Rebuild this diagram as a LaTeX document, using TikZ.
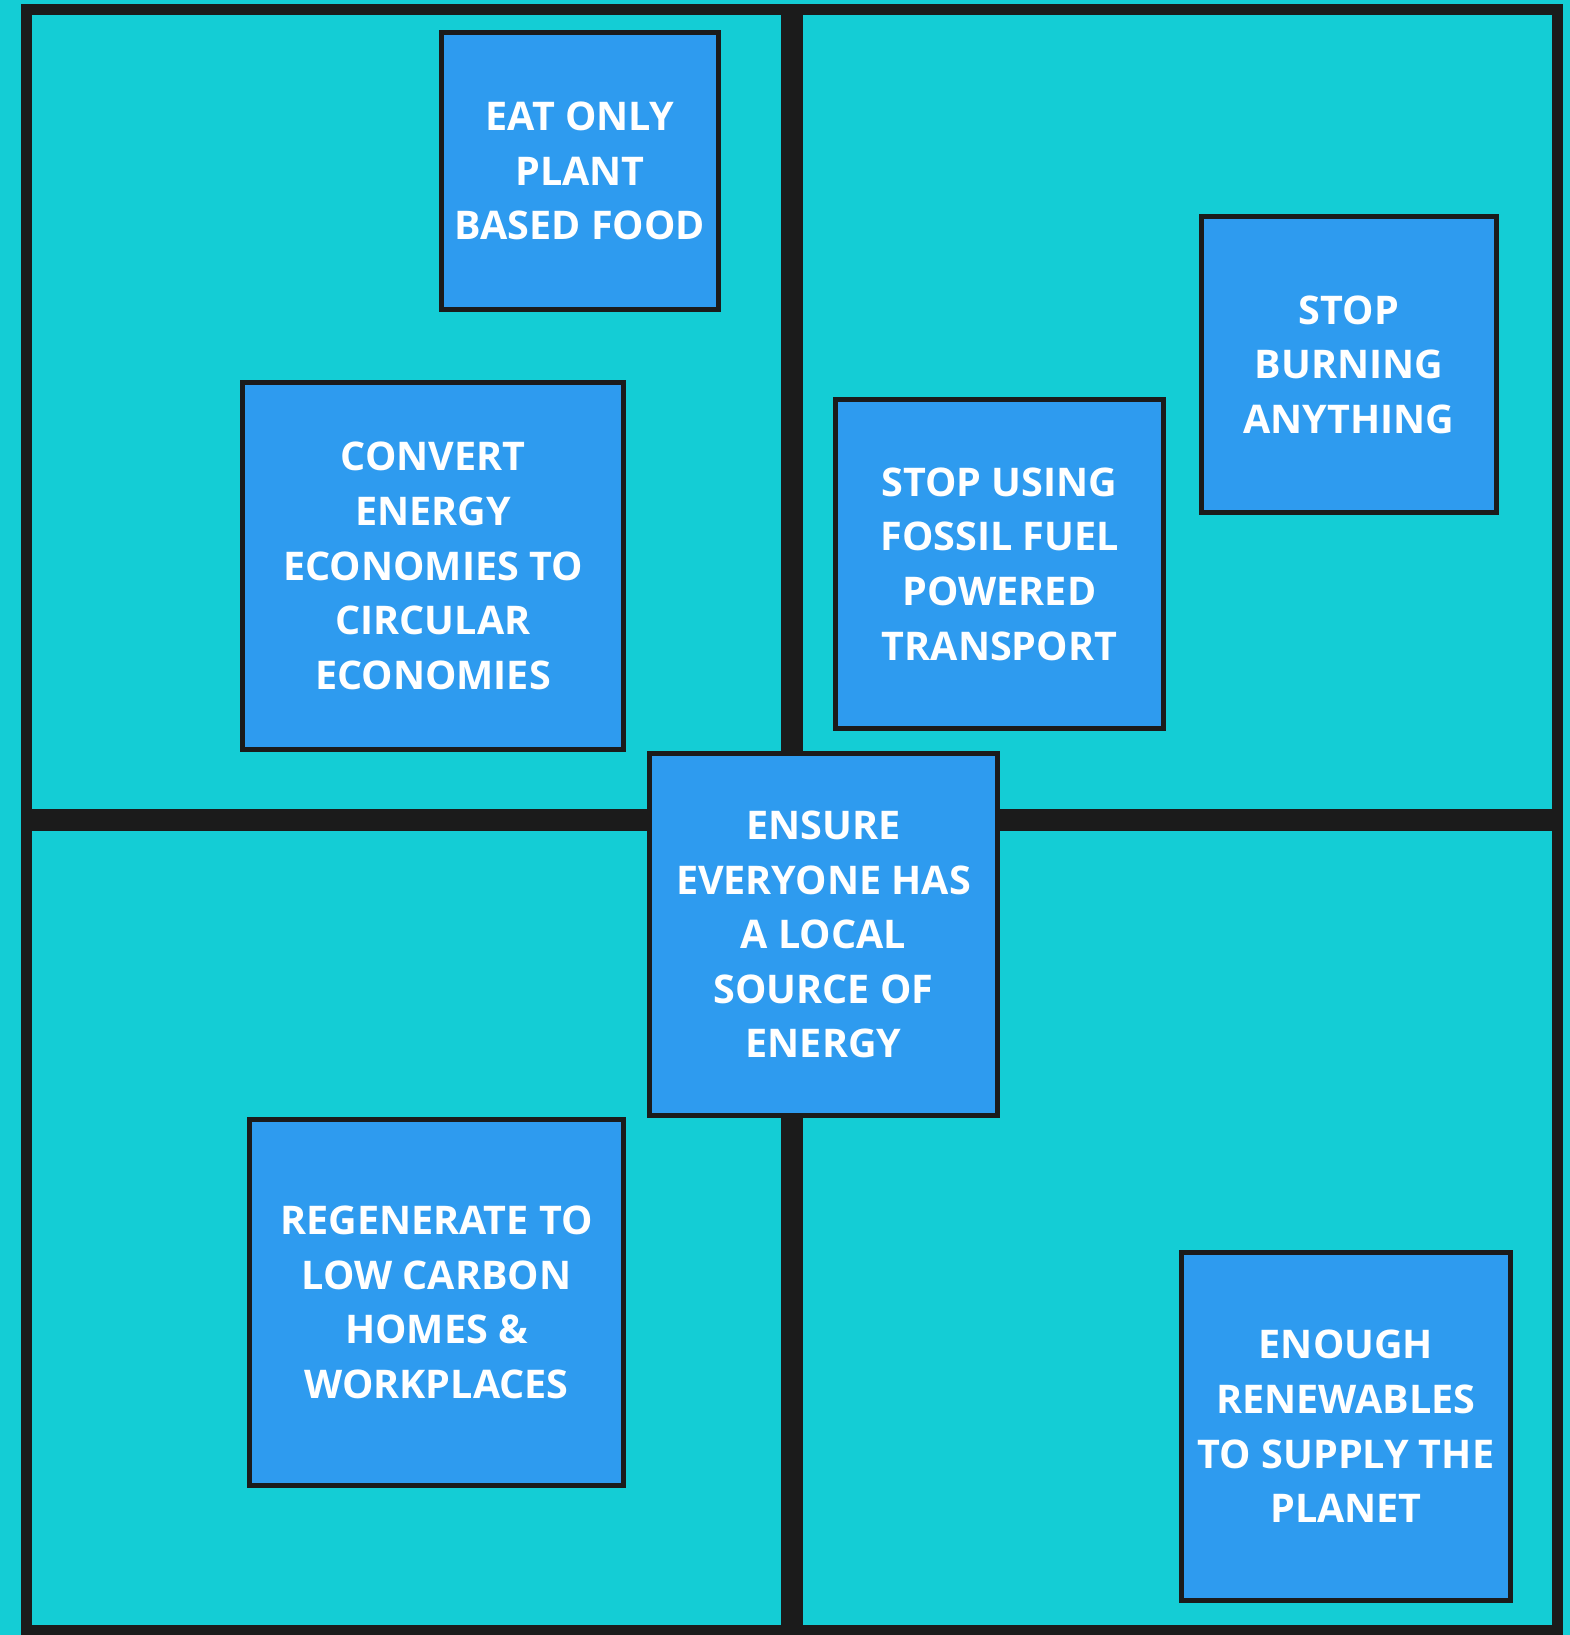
\documentclass[tikz,border=0pt]{standalone}
\usepackage{fontspec}
\setmainfont{Open Sans}
\definecolor{bg}{HTML}{14CDD5}
\definecolor{boxblue}{HTML}{2E9BEF}
\definecolor{ink}{HTML}{1B1B1B}
\begin{document}
\begin{tikzpicture}[x=1pt,y=-1pt,
  card/.style={draw=ink, fill=boxblue, line width=5pt, text=white,
    font=\fontsize{39.5}{54.6}\selectfont\bfseries, align=center, inner sep=0pt},
  divider/.style={draw=ink, line width=22pt},
  frame/.style={draw=ink, line width=11pt}]
\fill[bg] (0,0) rectangle (1570,1635);
\useasboundingbox (0,0) rectangle (1570,1635);
\coordinate (tl) at (26.5,9.5);
\coordinate (br) at (1557.5,1630.5);
\coordinate (vtop) at (792,9.5);
\coordinate (vbot) at (792,1630.5);
\coordinate (hl) at (26.5,820);
\coordinate (hr) at (1557.5,820);
\draw[frame] (tl) rectangle (br);
\draw[divider] (vtop) -- (vbot);
\draw[divider] (hl) -- (hr);
\node[card, minimum width=277pt, minimum height=277pt] (eat) at (580,171) {EAT ONLY\\PLANT\\BASED FOOD};
\node[card, minimum width=381pt, minimum height=367pt] (convert) at (433,566) {CONVERT\\ENERGY\\ECONOMIES TO\\CIRCULAR\\ECONOMIES};
\node[card, minimum width=328pt, minimum height=329pt] (fossil) at (999.5,564) {STOP USING\\FOSSIL FUEL\\POWERED\\TRANSPORT};
\node[card, minimum width=295pt, minimum height=296pt] (burn) at (1349,364.5) {STOP\\BURNING\\ANYTHING};
\node[card, minimum width=374pt, minimum height=366pt] (regen) at (436.5,1302.5) {REGENERATE TO\\LOW CARBON\\HOMES \&\\WORKPLACES};
\node[card, minimum width=329pt, minimum height=348pt] (enough) at (1346,1426.5) {ENOUGH\\RENEWABLES\\TO SUPPLY THE\\PLANET};
\node[card, minimum width=348pt, minimum height=362pt] (local) at (823.5,934.5) {ENSURE\\EVERYONE HAS\\A LOCAL\\SOURCE OF\\ENERGY};
\end{tikzpicture}
\end{document}
